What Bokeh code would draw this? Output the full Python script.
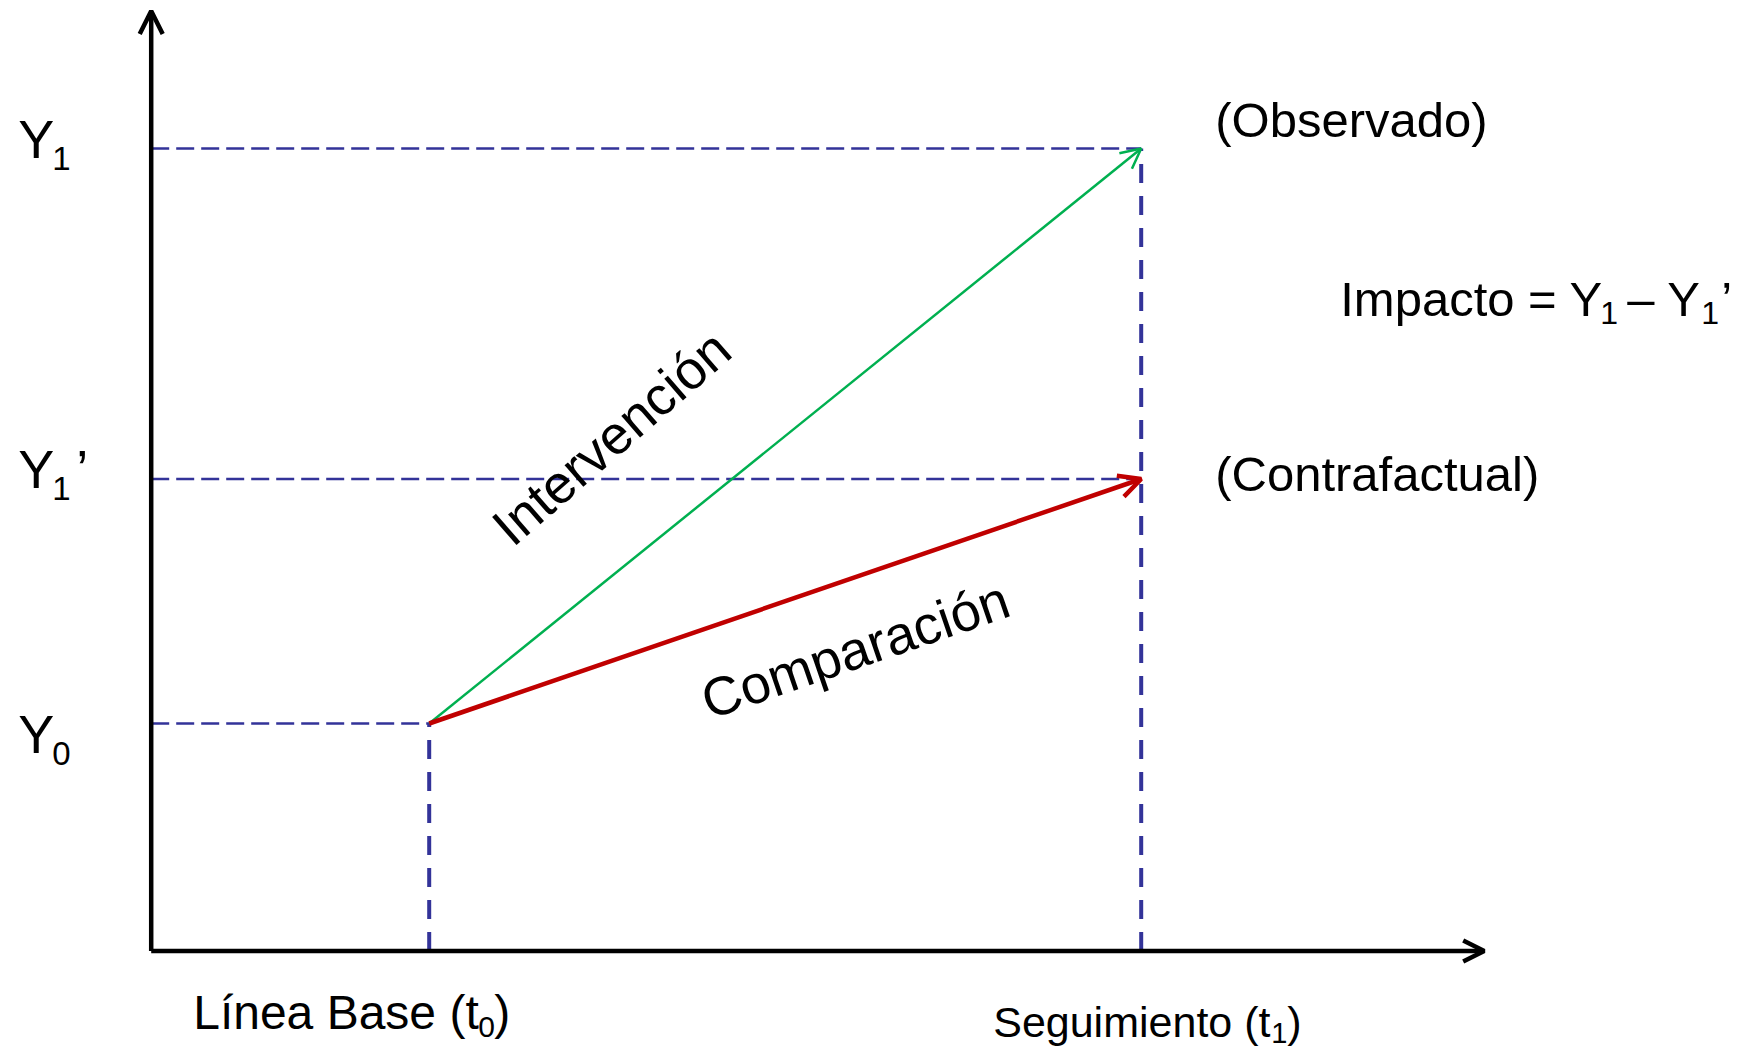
from bokeh.plotting import figure
from bokeh.models import Range1d, Arrow, OpenHead, ColumnDataSource
from bokeh.embed import file_html
from bokeh.resources import INLINE
from bokeh.core.properties import value
import math

# ---------------- data (arbitrary units) ----------------
time_labels = ["Línea Base", "Seguimiento"]
time_subs = ["0", "1"]
t_values = [2.78, 9.90]            # t0, t1

level_names = ["Y0", "Y1'", "Y1"]
level_subs = ["0", "1", "1"]
level_primes = ["", "\u2019", ""]
level_values = [2.275, 4.72, 8.025]  # Y0, Y1' (contrafactual), Y1 (observado)

x_axis_length = 13.33
y_axis_length = 9.40

arrow_names = ["Intervención", "Comparación"]
side_labels = ["(Observado)", "(Contrafactual)"]

# ---------------- style ----------------
FONT = "Liberation Sans"
BLUE = "#333399"
GREEN = "#00B050"
RED = "#C00000"

W, H = 1748, 1052
PX = 0.01                      # data units per screen pixel
X0 = -1.507
YTOP = 9.505
BASE_FIX = 0.38                # baseline correction (fraction of font size)

p = figure(width=W, height=H, output_backend="svg", toolbar_location=None,
           x_range=Range1d(X0, X0 + W * PX), y_range=Range1d(YTOP - H * PX, YTOP),
           x_axis_type=None, y_axis_type=None, min_border=0)
p.outline_line_color = None
p.background_fill_color = "white"
p.border_fill_color = "white"


def dx(px):
    return px * PX


def dy(px):          # positive px = downwards on screen
    return -px * PX


def label(x, y, txt, size, angle=0.0, align="left", baseline="alphabetic"):
    if baseline == "alphabetic":
        y = y - dy(BASE_FIX * size)
    p.text(x=[x], y=[y], text=[txt], text_font=value(FONT),
           text_font_size=value(f"{size}px"), text_color="black",
           angle=angle, text_align=align, text_baseline=baseline)


t0, t1 = t_values
Y0, Y1c, Y1 = level_values

# ---------------- dashed guide lines ----------------
hsrc = ColumnDataSource(dict(x0=[0, 0, 0], x1=[t0, t1, t1], y=[Y0, Y1c, Y1]))
p.segment(x0="x0", y0="y", x1="x1", y1="y", source=hsrc,
          line_color=BLUE, line_width=2.5, line_dash="18 7")

vsrc = ColumnDataSource(dict(x=[t0, t1], y0=[0, 0], y1=[Y0, Y1]))
p.segment(x0="x", y0="y0", x1="x", y1="y1", source=vsrc,
          line_color=BLUE, line_width=4, line_dash="19 13")

# ---------------- axes as arrows ----------------
p.add_layout(Arrow(end=OpenHead(size=21, line_width=4.5, line_color="black"),
                   x_start=0, y_start=0, x_end=x_axis_length, y_end=0,
                   line_width=4.5, line_color="black"))
p.add_layout(Arrow(end=OpenHead(size=23, line_width=4.5, line_color="black"),
                   x_start=0, y_start=0, x_end=0, y_end=y_axis_length,
                   line_width=4.5, line_color="black"))

# ---------------- intervention / comparison arrows ----------------
p.add_layout(Arrow(end=OpenHead(size=20, line_width=2.5, line_color=GREEN),
                   x_start=t0, y_start=Y0, x_end=t1, y_end=Y1,
                   line_width=2.5, line_color=GREEN))
p.add_layout(Arrow(end=OpenHead(size=22, line_width=4.5, line_color=RED),
                   x_start=t0, y_start=Y0, x_end=t1, y_end=Y1c,
                   line_width=4.5, line_color=RED))

# ---------------- left level labels ----------------
base_off = [31, 10.5, 11]
for lv, sub, prime, off in zip(level_values, level_subs, level_primes, base_off):
    label(dx(-133), lv + dy(off), "Y", 54)
    label(dx(-99), lv + dy(off + 12), sub, 33)
    if prime:
        label(dx(-75), lv + dy(off), prime, 54)

# ---------------- bottom time labels ----------------
# Línea Base (t0)
label(t0 + dx(-236), dy(79.5), time_labels[0] + " (t", 48)
label(t0 + dx(49), dy(87.5), time_subs[0], 30)
label(t0 + dx(65), dy(79.5), ")", 48)
# Seguimiento (t1)
label(t1 + dx(-148), dy(87.5), time_labels[1] + " (t", 43)
label(t1 + dx(130), dy(93.5), time_subs[1], 29)
label(t1 + dx(146), dy(87.5), ")", 43)

# ---------------- right labels ----------------
label(t1 + dx(74), Y1 + dy(-10), side_labels[0], 49)
label(t1 + dx(74), Y1c + dy(13.5), side_labels[1], 49)

ymid = (Y1 + Y1c) / 2
label(t1 + dx(199), ymid + dy(3.75), "Impacto = Y", 49)
label(t1 + dx(459), ymid + dy(11.75), "1", 32)
label(t1 + dx(486), ymid + dy(3.75), "\u2013 Y", 49)
label(t1 + dx(560), ymid + dy(11.75), "1", 32)
label(t1 + dx(580), ymid + dy(3.75), "\u2019", 49)

# ---------------- rotated arrow labels ----------------
label(t0 + dx(182), Y0 + dy(-286), arrow_names[0], 54,
      angle=math.radians(41), align="center", baseline="middle")
label(t0 + dx(426), Y0 + dy(-74), arrow_names[1], 54,
      angle=math.radians(19), align="center", baseline="middle")

open("out.html", "w").write(file_html(p, INLINE))
